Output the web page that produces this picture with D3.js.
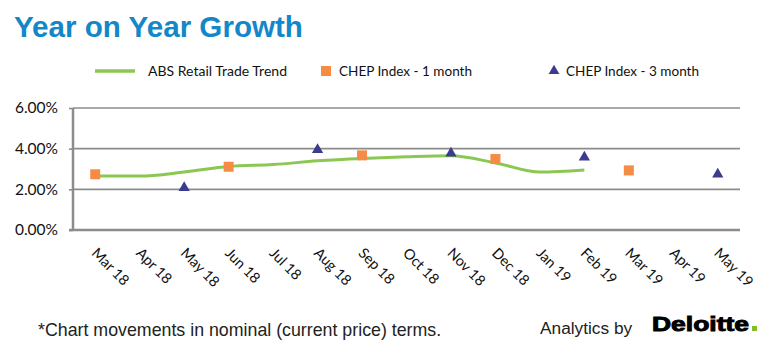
<!DOCTYPE html>
<html><head><meta charset="utf-8">
<script src="https://cdn.jsdelivr.net/npm/d3@7"></script>
<style>body{margin:0;background:#fff}svg{display:block}</style>
</head><body>
<script>
const months = ["Mar 18","Apr 18","May 18","Jun 18","Jul 18","Aug 18","Sep 18","Oct 18","Nov 18","Dec 18","Jan 19","Feb 19","Mar 19","Apr 19","May 19"];
const absMonths = ["Mar 18","Apr 18","May 18","Jun 18","Jul 18","Aug 18","Sep 18","Oct 18","Nov 18","Dec 18","Jan 19","Feb 19"];
const absValues = [2.65,2.65,2.85,3.12,3.22,3.40,3.52,3.60,3.65,3.30,2.85,2.95];
const chep1Months = ["Mar 18","Jun 18","Sep 18","Dec 18","Mar 19"];
const chep1Values = [2.74,3.11,3.67,3.49,2.93];
const chep3Months = ["May 18","Aug 18","Nov 18","Feb 19","May 19"];
const chep3Values = [2.08,3.95,3.77,3.58,2.74];
const yTicks = [0,2,4,6];
const seriesNames = ["ABS Retail Trade Trend","CHEP Index - 1 month","CHEP Index - 3 month"];

(function(){
const W=772,H=355;
const svg=d3.select("body").append("svg").attr("width",W).attr("height",H);
const pl=73,pr=740,pt=108,pb=230;
const x=d3.scalePoint().domain(months).range([pl,pr]).padding(0.5);
const y=d3.scaleLinear().domain([0,6]).range([pb,pt]);
const labelFont="Lato, 'Open Sans', sans-serif";
const green="#8cc653", orange="#f68b45", navy="#3c3c8e", grey="#8c8c8c";

svg.append("text").attr("x",14).attr("y",37).text("Year on Year Growth")
  .attr("font-family","'Liberation Sans', Arial, sans-serif").attr("font-weight","bold")
  .attr("font-size",29.6).attr("fill","#1387c8");

svg.append("g").selectAll("line").data(yTicks.filter(d=>d>0)).join("line")
  .attr("x1",pl).attr("x2",pr).attr("y1",d=>y(d)).attr("y2",d=>y(d))
  .attr("stroke",grey).attr("stroke-width",1.6);

const yAxis=svg.append("g").attr("transform",`translate(${pl},0)`)
  .call(d3.axisLeft(y).tickValues(yTicks).tickFormat(d=>d.toFixed(2)+"%").tickSize(4).tickPadding(11));
yAxis.select(".domain").remove();
yAxis.selectAll(".tick line").attr("stroke",grey).attr("stroke-width",1.6);
yAxis.selectAll("text").attr("font-family",labelFont).attr("font-size",15.5).attr("fill","#111");

svg.append("line").attr("x1",pl).attr("x2",pl).attr("y1",pt).attr("y2",pb+1)
  .attr("stroke",grey).attr("stroke-width",2.5);
svg.append("line").attr("x1",pl-4).attr("x2",pr).attr("y1",pb).attr("y2",pb)
  .attr("stroke",grey).attr("stroke-width",2.5);

const xAxis=svg.append("g").attr("transform",`translate(0,${pb})`)
  .call(d3.axisBottom(x).tickSize(0).tickPadding(0));
xAxis.select(".domain").remove();
xAxis.selectAll("text").attr("font-family",labelFont).attr("font-size",14.5).attr("fill","#111")
  .attr("text-anchor","start").attr("dy",0).attr("y",0)
  .attr("transform","translate(-5,24) rotate(45)");

const line=d3.line().x((d,i)=>x(absMonths[i])).y(d=>y(d)).curve(d3.curveMonotoneX);
svg.append("path").datum(absValues).attr("d",line).attr("fill","none")
  .attr("stroke",green).attr("stroke-width",3);

svg.append("g").selectAll("rect").data(chep1Values).join("rect")
  .attr("x",(d,i)=>x(chep1Months[i])-5).attr("y",d=>y(d)-5).attr("width",10).attr("height",10)
  .attr("fill",orange);
const tri=d3.symbol().type(d3.symbolTriangle).size(55);
svg.append("g").selectAll("path").data(chep3Values).join("path")
  .attr("d",tri).attr("transform",(d,i)=>`translate(${x(chep3Months[i])},${y(d)})`)
  .attr("fill",navy);

const lg=svg.append("g").attr("font-family",labelFont).attr("font-size",13.5).attr("fill","#111");
lg.append("line").attr("x1",95).attr("x2",135).attr("y1",71).attr("y2",71).attr("stroke",green).attr("stroke-width",3.5);
lg.append("text").attr("x",148).attr("y",76).text(seriesNames[0]).attr("textLength",139).attr("lengthAdjust","spacingAndGlyphs");
lg.append("rect").attr("x",321).attr("y",66).attr("width",10).attr("height",10).attr("fill",orange);
lg.append("text").attr("x",339).attr("y",76).text(seriesNames[1]).attr("textLength",133).attr("lengthAdjust","spacingAndGlyphs");
lg.append("path").attr("d",d3.symbol().type(d3.symbolTriangle).size(50)).attr("transform","translate(554,71)").attr("fill",navy);
lg.append("text").attr("x",566).attr("y",76).text(seriesNames[2]).attr("textLength",133).attr("lengthAdjust","spacingAndGlyphs");

svg.append("text").attr("x",38).attr("y",336).text("*Chart movements in nominal (current price) terms.")
  .attr("font-family","'Liberation Sans', Arial, sans-serif").attr("font-size",17.8).attr("fill","#222");
svg.append("text").attr("x",540).attr("y",334).text("Analytics by")
  .attr("font-family","'Liberation Sans', Arial, sans-serif").attr("font-size",17.3).attr("fill","#222");
svg.append("text").attr("x",652).attr("y",331).text("Deloitte")
  .attr("font-family","'Liberation Sans', Arial, sans-serif").attr("font-weight","bold").attr("font-size",19.5)
  .attr("textLength",97).attr("lengthAdjust","spacingAndGlyphs").attr("fill","#000")
  .attr("stroke","#000").attr("stroke-width",0.9);
svg.append("rect").attr("x",752).attr("y",326).attr("width",5).attr("height",5).attr("fill","#86bc25");
})();
</script>
</body></html>
